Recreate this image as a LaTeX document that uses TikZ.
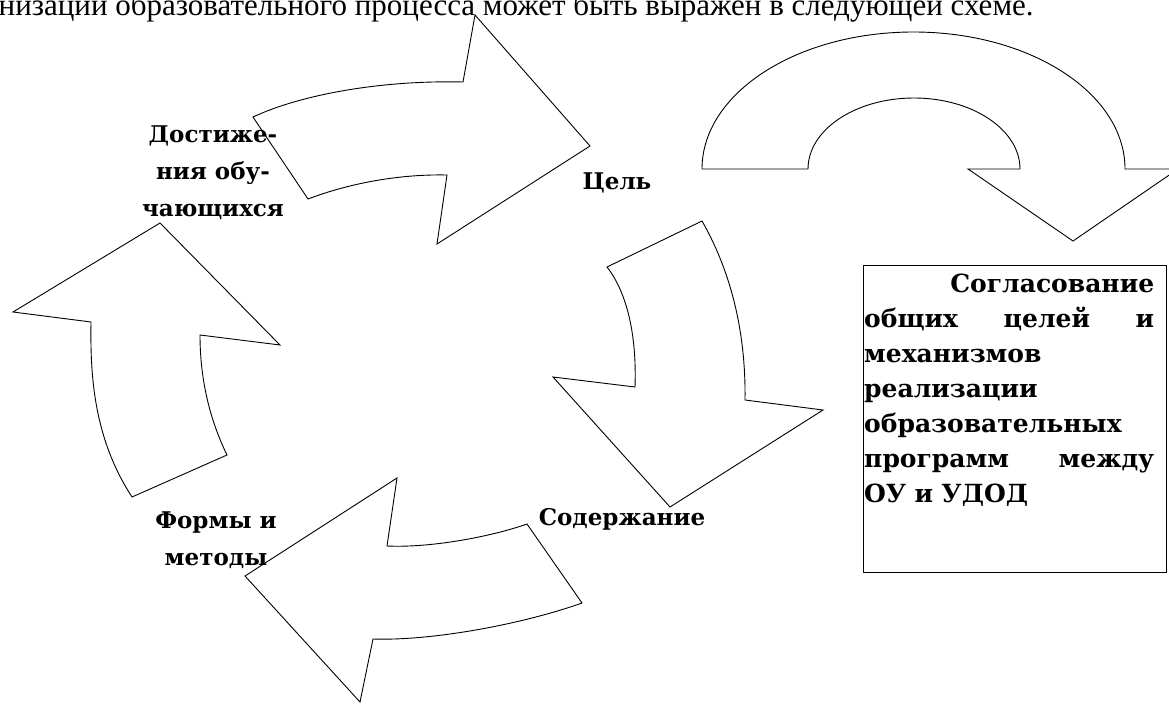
\documentclass[tikz,border=0pt]{standalone}
\usepackage{fontspec}
\setmainfont{Liberation Serif}
\newfontfamily\diagfont{DejaVu Serif}
\usepackage{tikz}
\usetikzlibrary{positioning}

\begin{document}
\begin{tikzpicture}[x=1pt, y=-1pt]
	\useasboundingbox (0,0) rectangle (1169,704);

	% line of the text above the scheme, cut by the page
	\node[anchor=base west, inner sep=0pt, font=\fontsize{31}{37}\selectfont] (intro) at (-59,15)
		{организации образовательного процесса может быть выражен в следующей схеме.};

	\begin{scope}[arrowshape/.style={draw=black, fill=white, line width=0.9pt, line join=miter}]
		% cycle arrows
		\path[arrowshape] (253,117) .. controls (300,95) and (380,80) .. (463,82) -- (475,15) -- (590,146)
			-- (437,244) -- (447,175) .. controls (400,174) and (350,183) .. (308,199) -- cycle;
		\path[arrowshape] (607,267) -- (702,221) .. controls (730,270) and (746,330) .. (745,400) -- (823,410)
			-- (670,507) -- (553,377) -- (635,387) .. controls (637,330) and (625,290) .. (607,267) -- cycle;
		\path[arrowshape] (527,524) -- (582,603) .. controls (520,625) and (430,641) .. (373,639) -- (360,702)
			-- (245,576) -- (397,478) -- (387,546) .. controls (430,548) and (490,537) .. (527,524) -- cycle;
		\path[arrowshape] (132,497) -- (227,455) .. controls (210,420) and (200,380) .. (200,335) -- (280,345)
			-- (160,223) -- (13,312) -- (91,322) .. controls (90,380) and (95,440) .. (132,497) -- cycle;
		% u-turn arrow
		\path[arrowshape] (702,169) .. controls (702,93.3) and (796.7,32) .. (913.5,32)
			.. controls (1030.3,32) and (1125,93.3) .. (1125,169) -- (1178,169) -- (1073,241) -- (968,169)
			-- (1020,169) .. controls (1020,129.8) and (972.5,98) .. (914,98)
			.. controls (855.5,98) and (808,129.8) .. (808,169) -- cycle;
	\end{scope}

	\begin{scope}[every node/.style={inner sep=0pt, align=center,
	              font=\diagfont\bfseries\fontsize{23}{37}\selectfont}]
		\node (results) at (213,173) {Достиже-\\ния обу-\\чающихся};
		\node (goal) at (617,183) {Цель};
		\node (content) at (622,519) {Содержание};
		\node (methods) at (216,540) {Формы и\\методы};
	\end{scope}

	\node[draw, line width=1.4pt, minimum width=303pt, minimum height=307pt,
	      anchor=north west, inner sep=0pt] (agree) at (863,265) {};
	\node[anchor=north west, inner sep=0pt, text width=290pt, align=left,
	      font=\diagfont\bfseries\fontsize{25}{35}\selectfont] (agreetext) at (864,274)
		{\makebox[\linewidth][r]{Согласование}\\
		 \makebox[\linewidth][s]{общих\hfill целей\hfill и}\\
		 механизмов\\
		 реализации\\
		 образовательных\\
		 \makebox[\linewidth][s]{программ\hfill между}\\
		 ОУ и УДОД};
\end{tikzpicture}
\end{document}
